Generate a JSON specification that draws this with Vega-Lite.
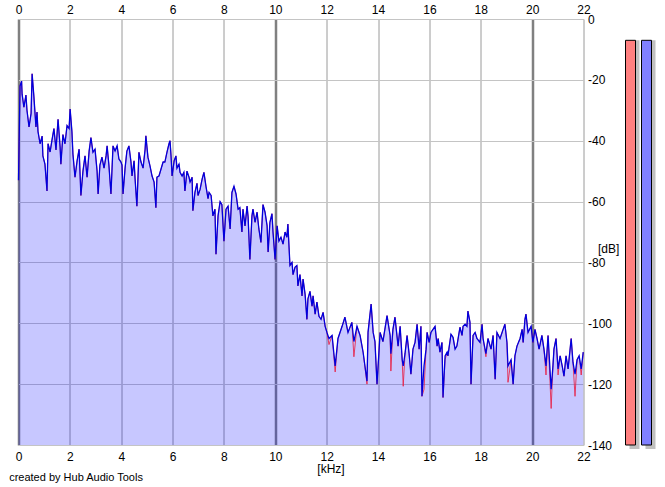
{
  "$schema": "https://vega.github.io/schema/vega-lite/v6.json",
  "background": "white",
  "padding": {"left": 8.5, "top": 3, "right": 0, "bottom": 0},
  "title": {
    "text": "created by Hub Audio Tools",
    "orient": "bottom",
    "anchor": "start",
    "dx": -6,
    "offset": -2,
    "font": "Liberation Sans",
    "fontSize": 11,
    "fontWeight": "normal",
    "color": "black"
  },
  "datasets": {
    "spectrum": [
      {"khz": 0, "left": -53, "right": -53},
      {"khz": 0.06, "left": -22, "right": -22},
      {"khz": 0.12, "left": -20.4, "right": -20.4},
      {"khz": 0.14, "left": -24.7, "right": -24.7},
      {"khz": 0.21, "left": -29, "right": -29},
      {"khz": 0.29, "left": -25, "right": -25},
      {"khz": 0.33, "left": -30, "right": -30},
      {"khz": 0.41, "left": -35.5, "right": -35.5},
      {"khz": 0.49, "left": -31, "right": -31},
      {"khz": 0.53, "left": -18, "right": -18},
      {"khz": 0.6, "left": -25.6, "right": -25.6},
      {"khz": 0.68, "left": -35.5, "right": -35.5},
      {"khz": 0.72, "left": -30.6, "right": -30.6},
      {"khz": 0.76, "left": -37, "right": -37},
      {"khz": 0.84, "left": -41, "right": -41},
      {"khz": 0.92, "left": -38.5, "right": -38.5},
      {"khz": 0.95, "left": -45, "right": -45},
      {"khz": 1.03, "left": -47.7, "right": -47.7},
      {"khz": 1.11, "left": -56.5, "right": -56.5},
      {"khz": 1.15, "left": -41, "right": -41},
      {"khz": 1.23, "left": -43.7, "right": -43.7},
      {"khz": 1.3, "left": -40, "right": -40},
      {"khz": 1.38, "left": -36, "right": -36},
      {"khz": 1.46, "left": -43, "right": -43},
      {"khz": 1.54, "left": -33, "right": -33},
      {"khz": 1.62, "left": -42, "right": -42},
      {"khz": 1.65, "left": -47.7, "right": -47.7},
      {"khz": 1.73, "left": -38, "right": -38},
      {"khz": 1.81, "left": -41, "right": -41},
      {"khz": 1.89, "left": -35, "right": -35},
      {"khz": 1.97, "left": -36, "right": -36},
      {"khz": 2.01, "left": -29.6, "right": -29.6},
      {"khz": 2.08, "left": -37, "right": -37},
      {"khz": 2.12, "left": -44.4, "right": -44.4},
      {"khz": 2.2, "left": -52, "right": -52},
      {"khz": 2.28, "left": -46.7, "right": -46.7},
      {"khz": 2.36, "left": -42.8, "right": -42.8},
      {"khz": 2.43, "left": -58, "right": -58},
      {"khz": 2.51, "left": -50, "right": -50},
      {"khz": 2.59, "left": -45, "right": -45},
      {"khz": 2.67, "left": -52, "right": -52},
      {"khz": 2.75, "left": -43.4, "right": -43.4},
      {"khz": 2.82, "left": -39, "right": -39},
      {"khz": 2.9, "left": -43.8, "right": -43.8},
      {"khz": 2.98, "left": -42.8, "right": -42.8},
      {"khz": 3.06, "left": -50, "right": -50},
      {"khz": 3.1, "left": -57.5, "right": -57.5},
      {"khz": 3.17, "left": -48, "right": -48},
      {"khz": 3.25, "left": -45.4, "right": -45.4},
      {"khz": 3.33, "left": -49, "right": -49},
      {"khz": 3.41, "left": -45, "right": -45},
      {"khz": 3.45, "left": -41.7, "right": -41.7},
      {"khz": 3.52, "left": -48, "right": -48},
      {"khz": 3.6, "left": -57.5, "right": -57.5},
      {"khz": 3.68, "left": -41.7, "right": -41.7},
      {"khz": 3.76, "left": -43.4, "right": -43.4},
      {"khz": 3.84, "left": -41.7, "right": -41.7},
      {"khz": 3.91, "left": -46, "right": -46},
      {"khz": 3.99, "left": -47, "right": -47},
      {"khz": 4.03, "left": -48, "right": -48},
      {"khz": 4.07, "left": -57.5, "right": -57.5},
      {"khz": 4.15, "left": -49, "right": -49},
      {"khz": 4.22, "left": -43.4, "right": -43.4},
      {"khz": 4.3, "left": -41.7, "right": -41.7},
      {"khz": 4.38, "left": -47, "right": -47},
      {"khz": 4.42, "left": -51.6, "right": -51.6},
      {"khz": 4.5, "left": -46.6, "right": -46.6},
      {"khz": 4.54, "left": -52.6, "right": -52.6},
      {"khz": 4.61, "left": -61.5, "right": -61.5},
      {"khz": 4.69, "left": -43.8, "right": -43.8},
      {"khz": 4.77, "left": -47, "right": -47},
      {"khz": 4.85, "left": -49, "right": -49},
      {"khz": 4.93, "left": -42.8, "right": -42.8},
      {"khz": 4.96, "left": -38.4, "right": -38.4},
      {"khz": 5.04, "left": -45.4, "right": -45.4},
      {"khz": 5.12, "left": -48.3, "right": -48.3},
      {"khz": 5.2, "left": -51.6, "right": -51.6},
      {"khz": 5.28, "left": -53.6, "right": -53.6},
      {"khz": 5.35, "left": -62, "right": -62},
      {"khz": 5.39, "left": -52, "right": -52},
      {"khz": 5.47, "left": -51.6, "right": -51.6},
      {"khz": 5.55, "left": -49.3, "right": -49.3},
      {"khz": 5.63, "left": -47, "right": -47},
      {"khz": 5.7, "left": -47, "right": -47},
      {"khz": 5.78, "left": -43.8, "right": -43.8},
      {"khz": 5.86, "left": -41, "right": -41},
      {"khz": 5.9, "left": -40, "right": -40},
      {"khz": 5.94, "left": -45, "right": -45},
      {"khz": 5.98, "left": -51.6, "right": -51.6},
      {"khz": 6.06, "left": -46.6, "right": -46.6},
      {"khz": 6.13, "left": -45, "right": -45},
      {"khz": 6.17, "left": -49, "right": -49},
      {"khz": 6.25, "left": -47.7, "right": -47.7},
      {"khz": 6.29, "left": -50.4, "right": -50.4},
      {"khz": 6.37, "left": -51.6, "right": -51.6},
      {"khz": 6.44, "left": -50.4, "right": -50.4},
      {"khz": 6.48, "left": -56.5, "right": -56.5},
      {"khz": 6.56, "left": -50, "right": -50},
      {"khz": 6.64, "left": -52, "right": -52},
      {"khz": 6.68, "left": -53.6, "right": -53.6},
      {"khz": 6.76, "left": -52, "right": -52},
      {"khz": 6.79, "left": -63, "right": -63},
      {"khz": 6.87, "left": -57, "right": -57},
      {"khz": 6.95, "left": -54, "right": -54},
      {"khz": 6.99, "left": -58, "right": -58},
      {"khz": 7.07, "left": -56, "right": -56},
      {"khz": 7.15, "left": -52.6, "right": -52.6},
      {"khz": 7.22, "left": -50.4, "right": -50.4},
      {"khz": 7.3, "left": -55, "right": -55},
      {"khz": 7.38, "left": -59, "right": -59},
      {"khz": 7.42, "left": -57, "right": -57},
      {"khz": 7.5, "left": -58, "right": -58},
      {"khz": 7.57, "left": -64.7, "right": -64.7},
      {"khz": 7.65, "left": -62.5, "right": -62.5},
      {"khz": 7.69, "left": -77.3, "right": -77.3},
      {"khz": 7.77, "left": -64.7, "right": -64.7},
      {"khz": 7.85, "left": -60, "right": -60},
      {"khz": 7.92, "left": -61, "right": -61},
      {"khz": 8.0, "left": -73, "right": -73},
      {"khz": 8.08, "left": -62.5, "right": -62.5},
      {"khz": 8.16, "left": -61.5, "right": -61.5},
      {"khz": 8.24, "left": -69, "right": -69},
      {"khz": 8.31, "left": -57, "right": -57},
      {"khz": 8.39, "left": -55, "right": -55},
      {"khz": 8.47, "left": -57.5, "right": -57.5},
      {"khz": 8.55, "left": -62.5, "right": -62.5},
      {"khz": 8.62, "left": -62, "right": -62},
      {"khz": 8.7, "left": -70, "right": -70},
      {"khz": 8.74, "left": -62.5, "right": -62.5},
      {"khz": 8.82, "left": -68, "right": -68},
      {"khz": 8.9, "left": -61.5, "right": -61.5},
      {"khz": 8.94, "left": -65, "right": -65},
      {"khz": 9.01, "left": -79, "right": -79},
      {"khz": 9.09, "left": -64.7, "right": -64.7},
      {"khz": 9.13, "left": -62.5, "right": -62.5},
      {"khz": 9.21, "left": -66.8, "right": -66.8},
      {"khz": 9.29, "left": -63.5, "right": -63.5},
      {"khz": 9.36, "left": -69, "right": -69},
      {"khz": 9.44, "left": -73.4, "right": -73.4},
      {"khz": 9.52, "left": -61, "right": -61},
      {"khz": 9.6, "left": -63.5, "right": -63.5},
      {"khz": 9.68, "left": -68, "right": -68},
      {"khz": 9.72, "left": -76.6, "right": -76.6},
      {"khz": 9.79, "left": -66.8, "right": -66.8},
      {"khz": 9.87, "left": -64, "right": -64},
      {"khz": 9.91, "left": -70, "right": -70},
      {"khz": 9.99, "left": -79, "right": -79},
      {"khz": 10.07, "left": -68, "right": -68},
      {"khz": 10.14, "left": -73, "right": -73},
      {"khz": 10.22, "left": -71.7, "right": -71.7},
      {"khz": 10.3, "left": -74, "right": -74},
      {"khz": 10.38, "left": -70, "right": -70},
      {"khz": 10.45, "left": -71.7, "right": -71.7},
      {"khz": 10.49, "left": -67.4, "right": -67.4},
      {"khz": 10.57, "left": -81, "right": -81},
      {"khz": 10.65, "left": -80, "right": -80},
      {"khz": 10.69, "left": -84, "right": -84},
      {"khz": 10.77, "left": -81.5, "right": -81.5},
      {"khz": 10.84, "left": -81, "right": -81},
      {"khz": 10.88, "left": -87.7, "right": -87.7},
      {"khz": 10.96, "left": -84, "right": -84},
      {"khz": 11.04, "left": -91, "right": -91},
      {"khz": 11.08, "left": -85.5, "right": -85.5},
      {"khz": 11.16, "left": -90.5, "right": -90.5},
      {"khz": 11.23, "left": -98.7, "right": -98.7},
      {"khz": 11.27, "left": -92, "right": -92},
      {"khz": 11.35, "left": -89.5, "right": -89.5},
      {"khz": 11.43, "left": -94.4, "right": -94.4},
      {"khz": 11.47, "left": -91, "right": -91},
      {"khz": 11.55, "left": -97, "right": -97},
      {"khz": 11.62, "left": -93, "right": -93},
      {"khz": 11.7, "left": -97.7, "right": -97.7},
      {"khz": 11.78, "left": -98.7, "right": -98.7},
      {"khz": 11.86, "left": -96.4, "right": -96.4},
      {"khz": 11.94, "left": -101, "right": -101},
      {"khz": 12.01, "left": -103, "right": -103},
      {"khz": 12.09, "left": -107, "right": -105},
      {"khz": 12.21, "left": -104, "right": -104},
      {"khz": 12.33, "left": -116, "right": -114},
      {"khz": 12.44, "left": -105, "right": -105},
      {"khz": 12.6, "left": -101, "right": -101},
      {"khz": 12.71, "left": -98, "right": -98},
      {"khz": 12.83, "left": -103, "right": -103},
      {"khz": 12.98, "left": -99.7, "right": -99.7},
      {"khz": 13.06, "left": -111, "right": -106},
      {"khz": 13.18, "left": -101, "right": -101},
      {"khz": 13.3, "left": -104, "right": -104},
      {"khz": 13.42, "left": -109.6, "right": -109.6},
      {"khz": 13.57, "left": -120, "right": -119},
      {"khz": 13.61, "left": -103, "right": -103},
      {"khz": 13.73, "left": -93.7, "right": -93.7},
      {"khz": 13.81, "left": -103, "right": -103},
      {"khz": 13.88, "left": -106, "right": -106},
      {"khz": 13.96, "left": -120, "right": -120},
      {"khz": 14.08, "left": -103, "right": -103},
      {"khz": 14.19, "left": -106, "right": -106},
      {"khz": 14.35, "left": -97.5, "right": -97.5},
      {"khz": 14.47, "left": -104, "right": -104},
      {"khz": 14.5, "left": -115.7, "right": -110},
      {"khz": 14.58, "left": -102, "right": -102},
      {"khz": 14.66, "left": -98, "right": -98},
      {"khz": 14.78, "left": -107.5, "right": -107.5},
      {"khz": 14.86, "left": -101, "right": -101},
      {"khz": 14.94, "left": -112, "right": -112},
      {"khz": 14.98, "left": -120.7, "right": -114},
      {"khz": 15.05, "left": -110, "right": -110},
      {"khz": 15.13, "left": -104, "right": -104},
      {"khz": 15.21, "left": -110, "right": -110},
      {"khz": 15.28, "left": -116.7, "right": -116.7},
      {"khz": 15.36, "left": -108.5, "right": -108.5},
      {"khz": 15.44, "left": -106.3, "right": -106.3},
      {"khz": 15.52, "left": -100.3, "right": -100.3},
      {"khz": 15.6, "left": -108.5, "right": -108.5},
      {"khz": 15.67, "left": -101, "right": -101},
      {"khz": 15.71, "left": -124, "right": -124},
      {"khz": 15.79, "left": -121.7, "right": -114},
      {"khz": 15.87, "left": -108.5, "right": -108.5},
      {"khz": 15.91, "left": -103, "right": -103},
      {"khz": 15.99, "left": -106.3, "right": -106.3},
      {"khz": 16.06, "left": -103, "right": -103},
      {"khz": 16.14, "left": -102, "right": -102},
      {"khz": 16.22, "left": -101, "right": -101},
      {"khz": 16.3, "left": -107.5, "right": -107.5},
      {"khz": 16.34, "left": -105, "right": -105},
      {"khz": 16.41, "left": -109.5, "right": -109.5},
      {"khz": 16.49, "left": -106.3, "right": -106.3},
      {"khz": 16.53, "left": -124.4, "right": -124.4},
      {"khz": 16.61, "left": -112, "right": -110.7},
      {"khz": 16.69, "left": -109.5, "right": -109.5},
      {"khz": 16.72, "left": -110.7, "right": -110.7},
      {"khz": 16.84, "left": -103.6, "right": -103.6},
      {"khz": 16.92, "left": -104.6, "right": -104.6},
      {"khz": 17.0, "left": -108.5, "right": -108.5},
      {"khz": 17.07, "left": -107.5, "right": -107.5},
      {"khz": 17.19, "left": -101.3, "right": -101.3},
      {"khz": 17.27, "left": -104, "right": -104},
      {"khz": 17.31, "left": -101, "right": -101},
      {"khz": 17.39, "left": -100.3, "right": -100.3},
      {"khz": 17.46, "left": -101, "right": -101},
      {"khz": 17.5, "left": -96, "right": -96},
      {"khz": 17.58, "left": -99.7, "right": -99.7},
      {"khz": 17.62, "left": -120, "right": -120},
      {"khz": 17.7, "left": -104, "right": -104},
      {"khz": 17.78, "left": -103, "right": -103},
      {"khz": 17.85, "left": -105, "right": -105},
      {"khz": 17.97, "left": -106.3, "right": -106.3},
      {"khz": 18.05, "left": -100.3, "right": -100.3},
      {"khz": 18.09, "left": -105, "right": -105},
      {"khz": 18.2, "left": -111, "right": -110},
      {"khz": 18.28, "left": -105, "right": -105},
      {"khz": 18.4, "left": -108.5, "right": -108.5},
      {"khz": 18.48, "left": -104, "right": -104},
      {"khz": 18.56, "left": -118.4, "right": -118.4},
      {"khz": 18.63, "left": -103, "right": -103},
      {"khz": 18.75, "left": -105, "right": -105},
      {"khz": 18.87, "left": -102, "right": -102},
      {"khz": 18.94, "left": -100.3, "right": -100.3},
      {"khz": 19.02, "left": -106.3, "right": -106.3},
      {"khz": 19.06, "left": -119.4, "right": -114},
      {"khz": 19.18, "left": -112, "right": -112},
      {"khz": 19.26, "left": -120, "right": -120},
      {"khz": 19.33, "left": -110.7, "right": -110.7},
      {"khz": 19.41, "left": -107.5, "right": -107.5},
      {"khz": 19.53, "left": -105, "right": -105},
      {"khz": 19.61, "left": -102, "right": -102},
      {"khz": 19.65, "left": -106.3, "right": -106.3},
      {"khz": 19.72, "left": -98.7, "right": -98.7},
      {"khz": 19.76, "left": -97, "right": -97},
      {"khz": 19.84, "left": -103, "right": -103},
      {"khz": 19.96, "left": -101, "right": -101},
      {"khz": 20.03, "left": -106.3, "right": -106.3},
      {"khz": 20.11, "left": -102, "right": -102},
      {"khz": 20.19, "left": -105, "right": -105},
      {"khz": 20.27, "left": -108.5, "right": -108.5},
      {"khz": 20.38, "left": -104, "right": -104},
      {"khz": 20.46, "left": -108.5, "right": -108.5},
      {"khz": 20.54, "left": -117, "right": -114},
      {"khz": 20.62, "left": -104, "right": -104},
      {"khz": 20.74, "left": -128, "right": -121.7},
      {"khz": 20.81, "left": -114, "right": -114},
      {"khz": 20.85, "left": -108.5, "right": -108.5},
      {"khz": 20.93, "left": -105, "right": -105},
      {"khz": 21.01, "left": -117, "right": -115},
      {"khz": 21.09, "left": -110.7, "right": -110.7},
      {"khz": 21.17, "left": -114, "right": -114},
      {"khz": 21.24, "left": -117.4, "right": -117.4},
      {"khz": 21.32, "left": -110.7, "right": -110.7},
      {"khz": 21.4, "left": -115, "right": -115},
      {"khz": 21.52, "left": -105, "right": -105},
      {"khz": 21.59, "left": -112.8, "right": -112.8},
      {"khz": 21.67, "left": -124, "right": -116.7},
      {"khz": 21.75, "left": -112, "right": -112},
      {"khz": 21.83, "left": -110.7, "right": -110.7},
      {"khz": 21.91, "left": -117, "right": -115},
      {"khz": 21.99, "left": -109.5, "right": -109.5}
    ],
    "meters": [
      {"ch": "L", "level": -7},
      {"ch": "R", "level": -7}
    ]
  },
  "spacing": 42,
  "bounds": "flush",
  "hconcat": [
    {
      "width": 565,
      "height": 426,
      "data": {"name": "spectrum"},
      "layer": [
        {
          "mark": {"type": "area", "color": "#0000ff", "opacity": 0.22},
          "encoding": {
            "x": {
              "field": "khz",
              "type": "quantitative",
              "scale": {"domain": [0, 22], "nice": false, "zero": false},
              "axis": {
                "orient": "bottom",
                "values": [0, 2, 4, 6, 8, 10, 12, 14, 16, 18, 20, 22],
                "grid": true,
                "gridColor": {"condition": {"test": "datum.value % 10 === 0", "value": "#808080"}, "value": "#9a9a9a"},
                "gridWidth": {"condition": {"test": "datum.value % 10 === 0", "value": 2.5}, "value": 1},
                "gridOpacity": 1,
                "ticks": false,
                "domain": false,
                "labelFlush": false,
                "labelPadding": 6,
                "labelFont": "Liberation Sans",
                "labelFontSize": 12,
                "labelColor": "black",
                "title": "[kHz]",
                "titleFont": "Liberation Sans",
                "titleFontSize": 12,
                "titleFontWeight": "normal",
                "titleColor": "black",
                "titleX": 312,
                "titleY": 23,
                "titleBaseline": "middle"
              }
            },
            "y": {
              "field": "right",
              "type": "quantitative",
              "scale": {"domain": [-140, 0], "nice": false},
              "axis": {
                "orient": "right",
                "values": [0, -20, -40, -60, -80, -100, -120, -140],
                "grid": true,
                "gridColor": "#c4c4c4",
                "gridOpacity": 1,
                "ticks": false,
                "domain": false,
                "labelFlush": false,
                "labelPadding": 4,
                "labelExpr": "'' + datum.value",
                "labelFont": "Liberation Sans",
                "labelFontSize": 12,
                "labelColor": "black",
                "title": "[dB]",
                "titleFont": "Liberation Sans",
                "titleFontSize": 12,
                "titleFontWeight": "normal",
                "titleColor": "black",
                "titleAngle": 0,
                "titleAlign": "left",
                "titleBaseline": "middle",
                "titleX": 14,
                "titleY": 229
              }
            },
            "y2": {"datum": -140}
          }
        },
        {
          "mark": {"type": "line", "color": "#e8183c", "strokeWidth": 0.8},
          "encoding": {
            "x": {"field": "khz", "type": "quantitative", "axis": null},
            "y": {"field": "left", "type": "quantitative"}
          }
        },
        {
          "mark": {"type": "line", "color": "#0000dd", "strokeWidth": 1.3},
          "encoding": {
            "x": {
              "field": "khz",
              "type": "quantitative",
              "axis": {
                "orient": "top",
                "values": [0, 2, 4, 6, 8, 10, 12, 14, 16, 18, 20, 22],
                "grid": false,
                "ticks": false,
                "domain": false,
                "labelFlush": false,
                "labelPadding": 3,
                "labelFont": "Liberation Sans",
                "labelFontSize": 12,
                "labelColor": "black",
                "title": null
              }
            },
            "y": {"field": "right", "type": "quantitative"}
          }
        }
      ]
    },
    {
      "width": 26,
      "height": 426,
      "data": {"name": "meters"},
      "encoding": {
        "x": {
          "field": "ch",
          "type": "nominal",
          "axis": null,
          "scale": {"domain": ["L", "R"], "paddingInner": 0.375, "paddingOuter": 0}
        },
        "y": {
          "field": "level",
          "type": "quantitative",
          "axis": null,
          "scale": {"domain": [-140, 0], "nice": false}
        },
        "y2": {"datum": -140}
      },
      "layer": [
        {
          "mark": {"type": "bar", "color": "#c0c0c0", "xOffset": 4, "y2Offset": 4}
        },
        {
          "mark": {"type": "bar", "stroke": "black", "strokeWidth": 1},
          "encoding": {
            "color": {
              "field": "ch",
              "type": "nominal",
              "scale": {"domain": ["L", "R"], "range": ["#ff8080", "#8080ff"]},
              "legend": null
            }
          }
        }
      ]
    }
  ],
  "config": {
    "view": {"stroke": null},
    "font": "Liberation Sans"
  }
}
